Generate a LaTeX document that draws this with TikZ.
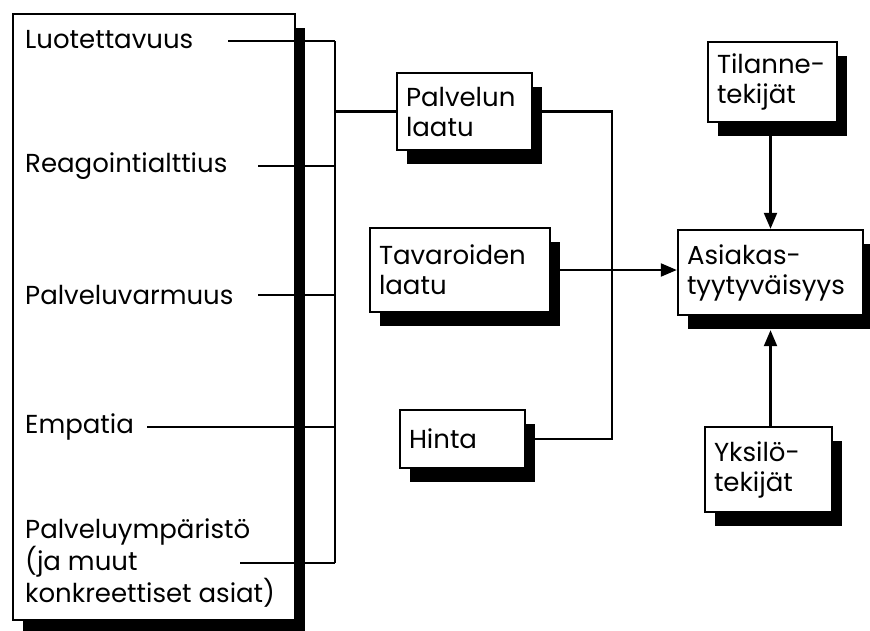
\documentclass[tikz,border=0pt]{standalone}
\usepackage{fontspec}
\setmainfont{Poppins}
\usetikzlibrary{shadows,arrows.meta,positioning}
\tikzstyle{txt}=[font=\fontsize{26}{30}\selectfont]
\tikzstyle{box}=[txt,draw=black,line width=2.4pt,fill=white,rectangle,align=left,inner sep=9pt,drop shadow={shadow xshift=10pt,shadow yshift=-14pt,fill=black,opacity=1}]
\tikzstyle{item}=[txt,inner sep=0pt,anchor=west,align=left]
\tikzstyle{edge}=[line width=2.2pt]
\tikzstyle{diredge}=[edge,-{Triangle[length=16pt,width=13pt]}]

\begin{document}
\begin{tikzpicture}[x=1pt,y=-1pt]
	\useasboundingbox (0,0) rectangle (870,630);
	% left column
	\node [style=box,minimum width=282pt,minimum height=606pt] (big) at (154,317) {};
	\node [style=item] (luo) at (25,40) {Luotettavuus};
	\node [style=item] (rea) at (25,166) {Reagointialttius};
	\node [style=item] (var) at (25,295) {Palveluvarmuus};
	\node [style=item] (emp) at (25,427) {Empatia};
	\node [style=item] (ymp) at (25,563) {Palveluympäristö\\(ja muut\\konkreettiset asiat)};
	\coordinate (l1) at (228,41);
	\coordinate (l2) at (258,166);
	\coordinate (l3) at (258,295);
	\coordinate (l4) at (147,427);
	\coordinate (l5) at (240,563);
	\coordinate (bus) at (335,0);
	\coordinate (join) at (612,0);
	% middle boxes
	\node [style=box,text width=117pt,minimum height=77pt] (pal) at (464.5,111.5) {Palvelun\\laatu};
	\node [style=box,text width=162pt,minimum height=84pt] (tav) at (460,270) {Tavaroiden\\laatu};
	\node [style=box,text width=107pt,minimum height=58pt] (hin) at (462.5,439) {Hinta};
	% right boxes
	\node [style=box,text width=111pt,minimum height=80pt] (til) at (772.5,82) {Tilanne-\\tekijät};
	\node [style=box,text width=167pt,minimum height=85pt] (asi) at (770.5,272.5) {Asiakas-\\tyytyväisyys};
	\node [style=box,text width=109pt,minimum height=85pt] (yks) at (768.5,469.5) {Yksilö-\\tekijät};
	% edges
	\draw [style=edge] (l1) -- (l1 -| bus);
	\draw [style=edge] (l2) -- (l2 -| bus);
	\draw [style=edge] (l3) -- (l3 -| bus);
	\draw [style=edge] (l4) -- (l4 -| bus);
	\draw [style=edge] (l5) -- (l5 -| bus);
	\draw [style=edge] (l1 -| bus) -- (l5 -| bus);
	\draw [style=edge] (pal.west -| bus) -- (pal.west);
	\draw [style=edge] (pal.east) -- (pal.east -| join) |- (hin.east);
	\draw [style=diredge] (tav.east) -- (tav.east -| asi.west);
	\draw [style=diredge] (til.south -| asi.north) -- (asi.north);
	\draw [style=diredge] (yks.north -| asi.south) -- ([yshift=-14pt]asi.south);
\end{tikzpicture}
\end{document}
